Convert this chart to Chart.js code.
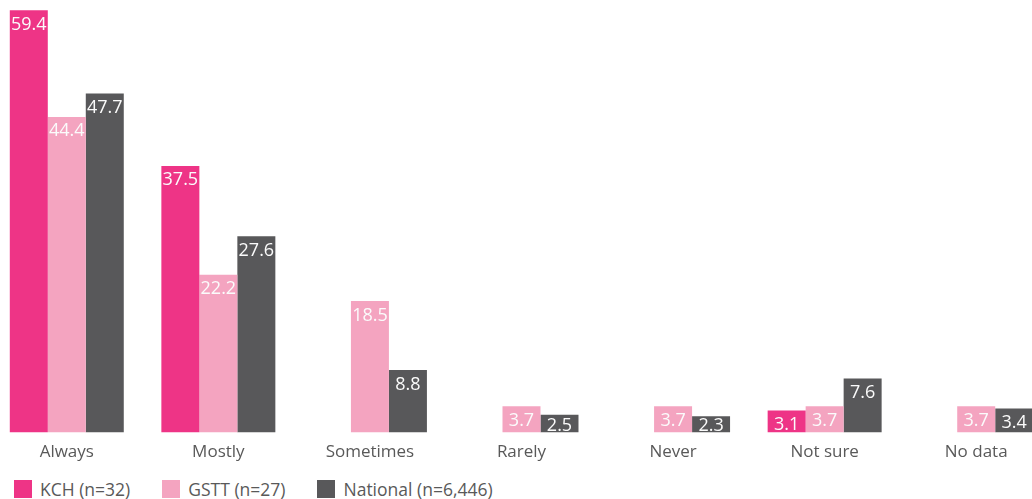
<!DOCTYPE html>
<html>
<head>
<meta charset="utf-8">
<script src="https://cdn.jsdelivr.net/npm/chart.js@4/dist/chart.umd.min.js"></script>
<style>
  html, body { margin: 0; padding: 0; background: #fff; overflow: hidden; }
  body { width: 1032px; height: 499px; position: relative; font-family: "Open Sans", sans-serif; }
  #wrap { position: absolute; left: -9px; top: 0; width: 1061px; height: 471px; }
  #legend { position: absolute; left: 14px; top: 480px; display: flex; }
  .item { display: flex; align-items: center; margin-right: 32px; height: 18px; }
  .box { width: 18px; height: 18px; margin-right: 8px; }
  .txt { font-size: 17.5px; color: #595959; line-height: 18px; }
</style>
</head>
<body>
<div id="wrap"><canvas id="chart"></canvas></div>
<div id="legend"></div>
<script>
const categories = ["Always", "Mostly", "Sometimes", "Rarely", "Never", "Not sure", "No data"];
const seriesNames = ["KCH (n=32)", "GSTT (n=27)", "National (n=6,446)"];
const kch = [59.4, 37.5, null, null, null, 3.1, null];
const gstt = [44.4, 22.2, 18.5, 3.7, 3.7, 3.7, 3.7];
const national = [47.7, 27.6, 8.8, 2.5, 2.3, 7.6, 3.4];
const colors = ["#ee3486", "#f4a4c0", "#58585a"];

// labels drawn inside the top of each bar
const barLabels = {
  id: "barLabels",
  afterDatasetsDraw(chart) {
    const ctx = chart.ctx;
    ctx.save();
    ctx.font = "18px 'Open Sans'";
    ctx.fillStyle = "#fbfbfb";
    ctx.textAlign = "center";
    ctx.textBaseline = "alphabetic";
    chart.data.datasets.forEach((ds, i) => {
      const meta = chart.getDatasetMeta(i);
      meta.data.forEach((bar, j) => {
        const v = ds.data[j];
        if (v == null) return;
        const y = Math.min(bar.y + 19.5, bar.base - 2);
        ctx.fillText(v.toFixed(1), bar.x, y);
      });
    });
    ctx.restore();
  }
};

const chart = new Chart(document.getElementById("chart"), {
  type: "bar",
  data: {
    labels: categories,
    datasets: [
      { label: seriesNames[0], data: kch, backgroundColor: colors[0] },
      { label: seriesNames[1], data: gstt, backgroundColor: colors[1] },
      { label: seriesNames[2], data: national, backgroundColor: colors[2] }
    ]
  },
  options: {
    responsive: true,
    maintainAspectRatio: false,
    animation: false,
    layout: { padding: { top: 6, left: 0, right: 0, bottom: 0 } },
    datasets: { bar: { categoryPercentage: 0.752, barPercentage: 1 } },
    plugins: {
      legend: { display: false },
      tooltip: { enabled: false }
    },
    scales: {
      x: {
        grid: { display: false, drawTicks: false },
        border: { display: false },
        ticks: { color: "#595959", font: { family: "Open Sans", size: 17 }, padding: 9 }
      },
      y: { display: false, min: 0, max: 60 }
    }
  },
  plugins: [barLabels]
});

const legend = document.getElementById("legend");
chart.data.datasets.forEach(ds => {
  const item = document.createElement("div");
  item.className = "item";
  item.innerHTML = `<span class="box" style="background:${ds.backgroundColor}"></span><span class="txt">${ds.label}</span>`;
  legend.appendChild(item);
});
</script>
</body>
</html>
